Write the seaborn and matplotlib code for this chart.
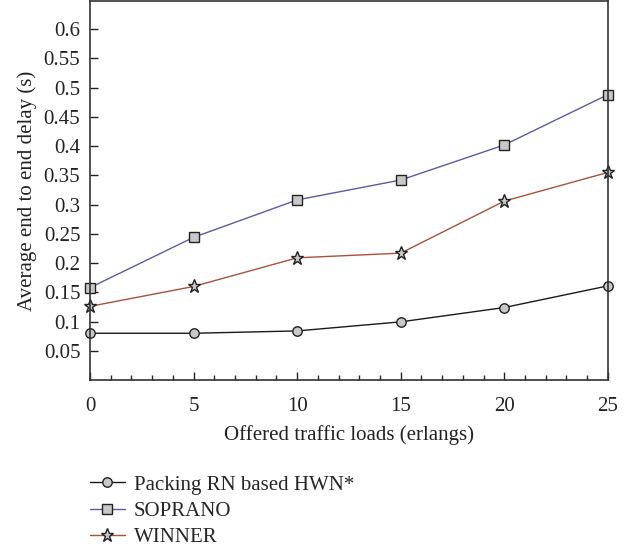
import matplotlib
matplotlib.use("Agg")
import matplotlib.pyplot as plt
import seaborn as sns
import pandas as pd
from matplotlib.ticker import MultipleLocator

loads = [0, 5, 10, 15, 20, 25]
packing = [0.080, 0.080, 0.084, 0.0995, 0.124, 0.161]
soprano = [0.158, 0.244, 0.308, 0.342, 0.402, 0.488]
winner = [0.126, 0.160, 0.209, 0.217, 0.306, 0.355]
series_names = ["Packing RN based HWN*", "SOPRANO", "WINNER"]
y_ticks = [0.05, 0.1, 0.15, 0.2, 0.25, 0.3, 0.35, 0.4, 0.45, 0.5, 0.55, 0.6]
y_tick_labels = ["0.05", "0.1", "0.15", "0.2", "0.25", "0.3", "0.35", "0.4", "0.45", "0.5", "0.55", "0.6"]

rows = []
for name, vals in zip(series_names, [packing, soprano, winner]):
    for x, y in zip(loads, vals):
        rows.append({"load": x, "delay": y, "scheme": name})
df = pd.DataFrame(rows)

sns.set_style("white")
plt.rcParams["font.family"] = ["Liberation Serif", "DejaVu Serif"]

fig = plt.figure(figsize=(6.35, 5.5), dpi=100)
ax = fig.add_axes([0.1417, 0.309, 0.8155, 0.689])

palette = {"Packing RN based HWN*": "#1a1a1a", "SOPRANO": "#5b5ba3", "WINNER": "#a5523e"}
markers = {"Packing RN based HWN*": "o", "SOPRANO": "s", "WINNER": "*"}
sns.lineplot(data=df, x="load", y="delay", hue="scheme", style="scheme",
             hue_order=series_names, style_order=series_names,
             palette=palette, markers=markers, dashes=False, ax=ax,
             linewidth=1.0, markersize=6.8, markerfacecolor="#c8c8c8",
             markeredgecolor="#222222", markeredgewidth=1.0, clip_on=False,
             legend=True)
for line in ax.get_lines():
    if line.get_marker() == "*":
        line.set_markersize(9.8)

ax.set_xlim(0, 25)
ax.set_ylim(0, 0.648)
ax.set_xticks(loads)
ax.xaxis.set_minor_locator(MultipleLocator(1))
ax.set_yticks(y_ticks)
ax.set_yticklabels(y_tick_labels)
ax.tick_params(axis="both", which="major", direction="in", length=6, width=1,
               labelsize=15, colors="#222222", top=False, right=False,
               bottom=True, left=True)
ax.tick_params(axis="x", which="major", pad=12)
ax.tick_params(axis="y", which="major", pad=7)
ax.tick_params(axis="x", which="minor", direction="in", length=3.5, width=1,
               bottom=True, top=False)
for s in ax.spines.values():
    s.set_color("#333333")
    s.set_linewidth(1.2)
ax.set_xlabel("Offered traffic loads (erlangs)", fontsize=15, color="#222222", labelpad=7)
ax.set_ylabel("Average end to end delay (s)", fontsize=15, color="#222222", labelpad=5)

handles, labels = ax.get_legend_handles_labels()
ax.get_legend().remove()
for h in handles:
    if h.get_marker() == "*":
        h.set_markersize(9.8)
fig.legend(handles, labels, loc="upper left", bbox_to_anchor=(0.142, 0.136),
           frameon=False, fontsize=15, handlelength=1.65, handletextpad=0.45,
           labelspacing=0.32, borderpad=0, borderaxespad=0)

fig.savefig("out.png", dpi=100)
